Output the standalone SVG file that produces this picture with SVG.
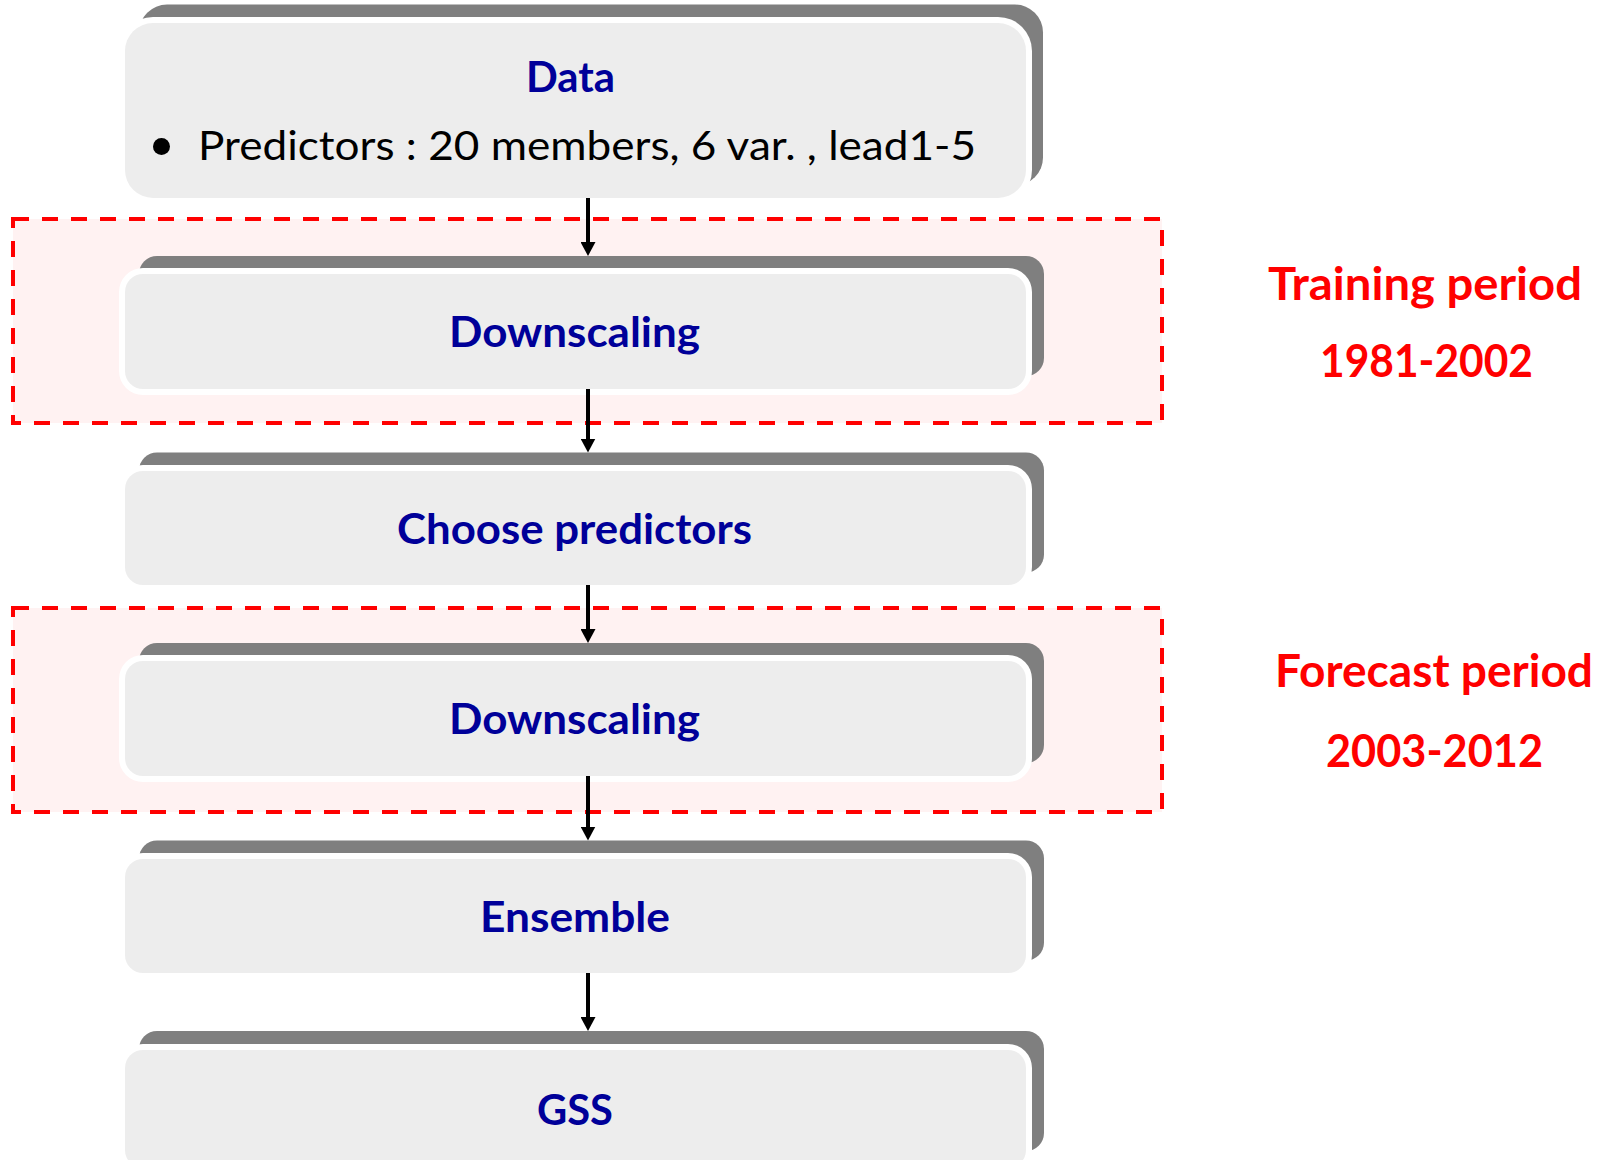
<svg xmlns="http://www.w3.org/2000/svg" width="1612" height="1160" viewBox="0 0 1612 1160">
<defs>
<style>
.zone{fill:#FFF2F2;stroke:#FF0000;stroke-width:4;stroke-dasharray:16 13;}
.shadow{fill:#7F7F7F;}
.halo{fill:#FFFFFF;}
.box{fill:#EDEDED;}
.title{font-family:Lato,"Open Sans","Liberation Sans",sans-serif;font-weight:bold;font-size:42px;fill:#000099;}
.body{font-family:Lato,"Open Sans","Liberation Sans",sans-serif;font-size:40px;fill:#000000;}
.period{font-family:Lato,"Open Sans","Liberation Sans",sans-serif;font-weight:bold;font-size:45px;fill:#FF0000;}
.conn{stroke:#000000;stroke-width:4;fill:none;marker-end:url(#arrow);}
</style>
<marker id="arrow" viewBox="0 0 14 15" refX="6" refY="7.5" markerWidth="14" markerHeight="15" markerUnits="userSpaceOnUse" orient="auto">
<path d="M0,0 L14,7.5 L0,15 z" fill="#000000"/>
</marker>
</defs>
<rect width="1612" height="1160" fill="#FFFFFF"/>

<g id="training-zone">
<rect class="zone" x="13" y="219" width="1149" height="204"/>
<text class="period" x="1268" y="300" textLength="314" lengthAdjust="spacingAndGlyphs">Training period</text>
<text class="period" x="1320" y="377" textLength="213" lengthAdjust="spacingAndGlyphs">1981-2002</text>
</g>
<g id="forecast-zone">
<rect class="zone" x="13" y="608" width="1149" height="204"/>
<text class="period" x="1275" y="687" textLength="318" lengthAdjust="spacingAndGlyphs">Forecast period</text>
<text class="period" x="1326" y="767" textLength="217" lengthAdjust="spacingAndGlyphs">2003-2012</text>
</g>

<g id="data">
<rect class="shadow" x="139" y="4.5" width="904" height="181" rx="28"/>
<rect class="halo" x="119" y="17" width="913" height="187" rx="34"/>
<rect class="box" x="125" y="23" width="901" height="175" rx="28"/>
<text class="title" x="526" y="92" textLength="89" lengthAdjust="spacingAndGlyphs">Data</text>
<circle cx="161.5" cy="146.5" r="8.5" fill="#000000"/>
<text class="body" x="198" y="160" textLength="778" lengthAdjust="spacingAndGlyphs">Predictors : 20 members, 6 var. , lead1-5</text>
</g>

<g id="downscaling-training">
<rect class="shadow" x="139" y="256" width="905" height="120" rx="18"/>
<rect class="halo" x="119" y="268" width="913" height="127" rx="24"/>
<rect class="box" x="125" y="274" width="901" height="115" rx="18"/>
<text class="title" x="449" y="347" textLength="251" lengthAdjust="spacingAndGlyphs">Downscaling</text>
</g>

<g id="choose-predictors">
<rect class="shadow" x="139" y="452.5" width="905" height="120" rx="18"/>
<rect class="halo" x="119" y="465" width="913" height="126" rx="24"/>
<rect class="box" x="125" y="471" width="901" height="114" rx="18"/>
<text class="title" x="397" y="544" textLength="355" lengthAdjust="spacingAndGlyphs">Choose predictors</text>
</g>

<g id="downscaling-forecast">
<rect class="shadow" x="139" y="643" width="905" height="120" rx="18"/>
<rect class="halo" x="119" y="655" width="913" height="127" rx="24"/>
<rect class="box" x="125" y="661" width="901" height="115" rx="18"/>
<text class="title" x="449" y="734" textLength="251" lengthAdjust="spacingAndGlyphs">Downscaling</text>
</g>

<g id="ensemble">
<rect class="shadow" x="139" y="840.5" width="905" height="120" rx="18"/>
<rect class="halo" x="119" y="853" width="913" height="126" rx="24"/>
<rect class="box" x="125" y="859" width="901" height="114" rx="18"/>
<text class="title" x="480" y="932" textLength="190" lengthAdjust="spacingAndGlyphs">Ensemble</text>
</g>

<g id="gss">
<rect class="shadow" x="139" y="1031" width="905" height="120" rx="18"/>
<rect class="halo" x="119" y="1044" width="913" height="130" rx="24"/>
<rect class="box" x="125" y="1050" width="901" height="118" rx="18"/>
<text class="title" x="537" y="1125" textLength="76" lengthAdjust="spacingAndGlyphs">GSS</text>
</g>

<g id="connectors">
<line class="conn" x1="588" y1="198" x2="588" y2="248"/>
<line class="conn" x1="588" y1="389" x2="588" y2="444.5"/>
<line class="conn" x1="588" y1="585" x2="588" y2="635"/>
<line class="conn" x1="588" y1="776" x2="588" y2="832.5"/>
<line class="conn" x1="588" y1="973" x2="588" y2="1023"/>
</g>
</svg>
